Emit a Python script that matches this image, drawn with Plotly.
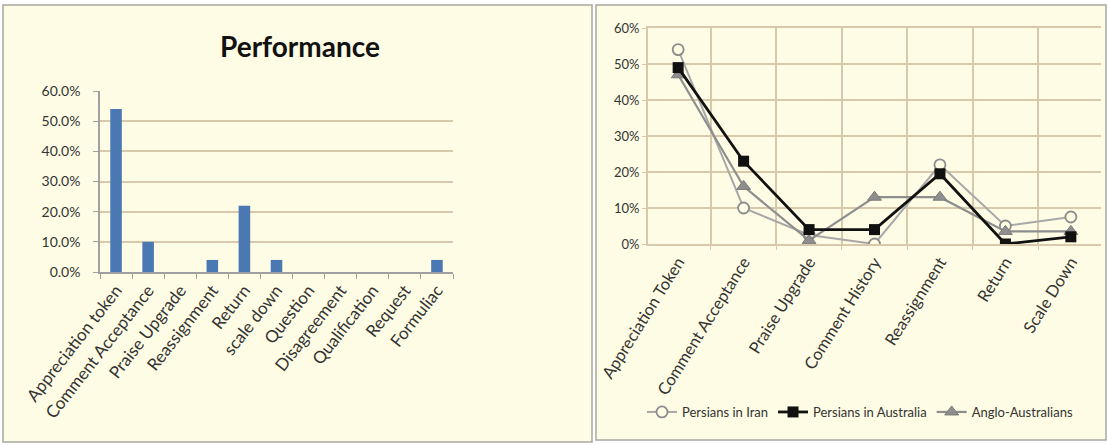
import plotly.graph_objects as go

# Left panel: single-series bar chart
perf_categories = ["Appreciation token", "Comment Acceptance", "Praise Upgrade",
                   "Reassignment", "Return", "scale down", "Question",
                   "Disagreement", "Qualification", "Request", "Formuliac"]
perf_values = [0.54, 0.10, 0.0, 0.04, 0.22, 0.04, 0.0, 0.0, 0.0, 0.0, 0.04]

# Right panel: three groups compared across strategies
group_categories = ["Appreciation Token", "Comment Acceptance", "Praise Upgrade",
                    "Comment History", "Reassignment", "Return", "Scale Down"]
persians_iran = [0.54, 0.10, 0.025, 0.0, 0.22, 0.05, 0.075]
persians_australia = [0.49, 0.23, 0.04, 0.04, 0.195, 0.0, 0.02]
anglo_australians = [0.47, 0.16, 0.01, 0.13, 0.13, 0.035, 0.035]

W, H = 1107, 445
BEIGE = "#FEFCE4"
GRID = "#D9C9AC"
TEXT = "#333333"
FONT = "Lato"


def px_x(v):
    return v / W


def px_y(v):
    return 1 - v / H


fig = go.Figure()

fig.add_trace(go.Bar(
    x=perf_categories, y=perf_values, name="Performance",
    marker=dict(color="#4A78B2", line=dict(width=0)),
    width=0.36, xaxis="x", yaxis="y", legend="legend",
))

fig.add_trace(go.Scatter(
    x=group_categories, y=persians_iran, name="Persians in Iran",
    mode="lines+markers", xaxis="x2", yaxis="y2", legend="legend2",
    legendrank=1,
    line=dict(color="#A8A8A8", width=2),
    marker=dict(symbol="circle", size=11, color=BEIGE,
                line=dict(color="#8C8C8C", width=1.8)),
))
fig.add_trace(go.Scatter(
    x=group_categories, y=anglo_australians, name="Anglo-Australians",
    mode="lines+markers", xaxis="x2", yaxis="y2", legend="legend2",
    legendrank=3,
    line=dict(color="#8E8E8E", width=2.2),
    marker=dict(symbol="triangle-up", size=12, color="#8E8E8E",
                line=dict(color="#7A7A7A", width=1)),
))
fig.add_trace(go.Scatter(
    x=group_categories, y=persians_australia, name="Persians in Australia",
    mode="lines+markers", xaxis="x2", yaxis="y2", legend="legend2",
    legendrank=2,
    line=dict(color="#111111", width=2.8),
    marker=dict(symbol="square", size=11, color="#111111"),
))

# Panel frames
panel_line = dict(color="#A8A8A0", width=1.5)
shapes = [
    dict(type="rect", xref="paper", yref="paper", layer="below",
         x0=px_x(3), x1=px_x(592), y0=px_y(442), y1=px_y(5),
         fillcolor=BEIGE, line=panel_line),
    dict(type="rect", xref="paper", yref="paper", layer="below",
         x0=px_x(596), x1=px_x(1106), y0=px_y(440), y1=px_y(5),
         fillcolor=BEIGE, line=panel_line),
]

fig.update_layout(
    width=W, height=H,
    margin=dict(l=0, r=0, t=0, b=0, autoexpand=False),
    paper_bgcolor="white",
    plot_bgcolor=BEIGE,
    font=dict(family=FONT, color=TEXT),
    shapes=shapes,
    xaxis=dict(
        domain=[px_x(100), px_x(453)], anchor="y", automargin=False,
        type="category", tickson="boundaries", ticks="outside",
        ticklen=5, tickcolor="#A0A0A0", showgrid=False,
        showline=True, linecolor="#A0A0A0", linewidth=1.5,
        tickangle=-52, tickfont=dict(family=FONT, size=17, color=TEXT),
    ),
    yaxis=dict(
        domain=[px_y(272), px_y(91)], anchor="x", automargin=False,
        range=[0, 0.6], dtick=0.1, tickformat=".1%",
        showgrid=True, gridcolor=GRID, gridwidth=2,
        showline=True, linecolor="#A0A0A0", linewidth=1.5,
        ticks="outside", ticklen=5, tickcolor="#A0A0A0",
        ticklabelstandoff=10,
        tickfont=dict(family=FONT, size=14, color=TEXT), zeroline=False,
    ),
    xaxis2=dict(
        domain=[px_x(648), px_x(1101)], anchor="y2", automargin=False,
        type="category", tickson="boundaries", ticks="outside",
        ticklen=4, tickcolor=GRID, showgrid=True, gridcolor=GRID,
        gridwidth=2, showline=True, linecolor=GRID, linewidth=2,
        mirror=True, tickangle=-58,
        tickfont=dict(family=FONT, size=16.5, color=TEXT),
    ),
    yaxis2=dict(
        domain=[px_y(244), px_y(28)], anchor="x2", automargin=False,
        range=[0, 0.6], dtick=0.1, tickformat=".0%",
        showgrid=True, gridcolor=GRID, gridwidth=2,
        showline=True, linecolor=GRID, linewidth=2,
        ticks="outside", ticklen=4, tickcolor=GRID,
        tickfont=dict(family=FONT, size=13, color=TEXT), zeroline=False,
    ),
    legend=dict(
        x=px_x(490), y=px_y(257), xanchor="left", yanchor="middle",
        bgcolor="rgba(0,0,0,0)", font=dict(family=FONT, size=14, color=TEXT),
        itemwidth=30,
    ),
    legend2=dict(
        orientation="h", x=px_x(860), y=px_y(412),
        xanchor="center", yanchor="middle",
        bgcolor="rgba(0,0,0,0)", font=dict(family=FONT, size=13, color=TEXT),
        traceorder="normal",
    ),
    annotations=[dict(
        text="<b>Performance</b>", xref="paper", yref="paper",
        x=px_x(300), y=px_y(46), xanchor="center", yanchor="middle",
        showarrow=False, font=dict(family=FONT, size=28, color="#111111"),
    )],
)

fig.write_html("out.html")
